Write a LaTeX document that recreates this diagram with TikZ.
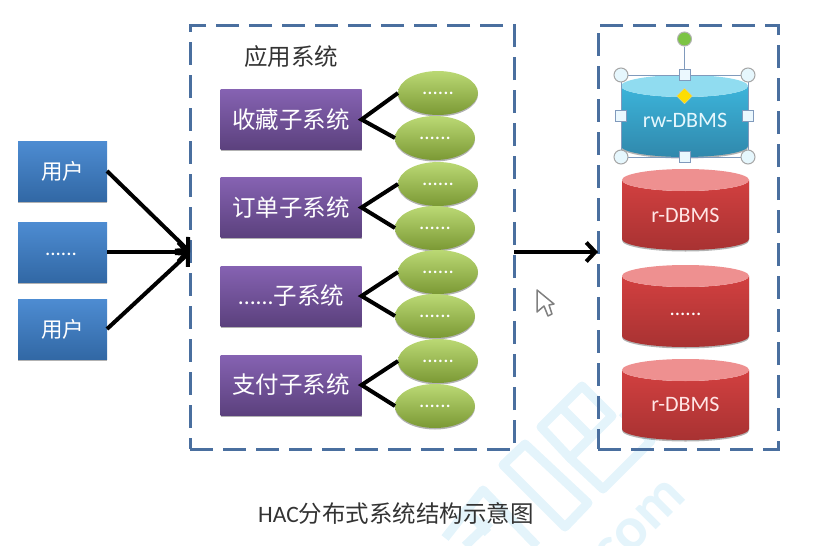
\documentclass[tikz,border=0pt]{standalone}
\usepackage{fontspec}
\setmainfont{Carlito}
\newfontfamily\cjk{Noto Sans CJK SC}
\usetikzlibrary{arrows.meta,shadows,shapes.geometric}
\newlength{\du}
\setlength{\du}{1pt}
\definecolor{dashblue}{HTML}{4A6F9F}
\definecolor{markblue}{HTML}{E4F4FB}
\definecolor{userblue}{HTML}{3E82CE}
\definecolor{subpurple}{HTML}{7F5AAE}
\definecolor{leafgreen}{HTML}{A4CC46}
\definecolor{knobgreen}{HTML}{7CC444}
\definecolor{tealtop}{HTML}{3CB4DA}
\definecolor{tealbot}{HTML}{3088AC}
\definecolor{tealcap}{HTML}{90DCF0}
\definecolor{redtop}{HTML}{D24040}
\definecolor{redbot}{HTML}{A83232}
\definecolor{redcap}{HTML}{EE9090}
\tikzset{
  framebox/.style={draw=dashblue,line width=3\du,dash pattern=on 23\du off 10\du,minimum width=#1\du,inner sep=0pt,outer sep=0pt},
  softshadow/.style={drop shadow={shadow xshift=0pt,shadow yshift=-1.5\du,opacity=.3,fill=black}},
  glossbox/.style={inner sep=0pt,outer sep=0pt,text=white,softshadow},
  userbox/.style={glossbox,minimum width=89\du,minimum height=60\du,top color=userblue!92!white,middle color=userblue,bottom color=userblue!80!black},
  subbox/.style={glossbox,minimum width=141\du,minimum height=60\du,top color=subpurple!95!white,middle color=subpurple,bottom color=subpurple!72!black},
  leaf/.style={glossbox,ellipse,minimum width=80\du,minimum height=44\du,top color=leafgreen!75!white,middle color=leafgreen,bottom color=leafgreen!75!black},
  link/.style={line width=4\du,black},
  arrowlink/.style={link,-{Straight Barb[length=9pt,width=19pt,line width=4pt]}},
  dots/.style={inner sep=0pt,text=white,font=\fontsize{21\du}{21\du}\selectfont},
  cntext/.style={inner sep=0pt,text=white,font=\fontsize{23.5\du}{23.5\du}\selectfont\cjk},
  dbtext/.style={inner sep=0pt,text=white,font=\fontsize{22\du}{22\du}\selectfont},
  cornerhandle/.style={circle,draw=gray!70,line width=1\du,fill=cyan!10,minimum size=14\du,inner sep=0pt},
  sidehandle/.style={rectangle,draw=dashblue!70,line width=.8\du,fill=cyan!8,minimum size=11\du,inner sep=0pt},
}
% one database drum: left x, top y, bottom y, body top, body bottom, lid colour
\newcommand{\dbdrum}[6]{
\shade[top color=#4,bottom color=#5,softshadow]
  (#1\du,#2\du+11\du) arc[start angle=180,end angle=360,x radius=63.5\du,y radius=-11\du] -- (#1\du+127\du,#3\du-11\du)
  arc[start angle=0,end angle=180,x radius=63.5\du,y radius=11\du] -- cycle;
\fill[#6] (#1\du+63.5\du,#2\du+11\du) ellipse[x radius=63.5\du,y radius=11\du];
}
\begin{document}
\begin{tikzpicture}[yscale=-1]
\useasboundingbox (0\du,0\du) rectangle (822\du,546\du);
% watermark
\begin{scope}[markblue,line width=9\du,line join=round]
\draw (541\du,427\du)--(582\du,386\du)--(612\du,416\du)--(570\du,458\du)--cycle;
\draw (561\du,407\du)--(591\du,437\du);
\draw (570\du,458\du)--(603\du,489\du)--(651\du,441\du)--(622\du,412\du);
\draw (503\du,465\du)--(525\du,444\du)--(588\du,503\du)--(565\du,527\du)--cycle;
\draw (445\du,538\du)--(483\du,490\du)--(537\du,546\du);
\draw (463\du,507\du)--(488\du,533\du);
\draw (465\du,546\du)--(490\du,522\du);
\end{scope}
\node[rotate=45,text=markblue,inner sep=0pt,font=\fontsize{60\du}{60\du}\selectfont\bfseries] (markcom) at (640\du,525\du) {com};
% dashed frames
\node[framebox=324,minimum height=424\du] (appbox) at (352\du,237\du) {};
\node[framebox=180,minimum height=424\du] (dbbox) at (688\du,237\du) {};
\node[inner sep=0pt,font=\fontsize{23.5\du}{23.5\du}\selectfont\cjk,text=black!80] (apptitle) at (291\du,57\du) {应用系统};
% users
\node[userbox] (user1) at (62.5\du,171\du) {};
\node[userbox] (user2) at (62.5\du,252\du) {};
\node[userbox] (user3) at (62.5\du,329\du) {};
\node[cntext,font=\fontsize{21.5\du}{21.5\du}\selectfont\cjk] (user1text) at (user1) {用户};
\node[dots] (user2text) at (61\du,254\du) {......};
\node[cntext,font=\fontsize{21.5\du}{21.5\du}\selectfont\cjk] (user3text) at (user3) {用户};
\draw[arrowlink] (user1.east)--(appbox.west |- user2);
\draw[arrowlink] (user2.east)--(appbox.west |- user2);
\draw[arrowlink] (user3.east)--(appbox.west |- user2);
\draw[arrowlink] (appbox.east |- user2)--(dbbox.west |- user2);
% sub systems
\node[subbox] (sub1) at (291\du,119.5\du) {};
\node[subbox] (sub2) at (291\du,207.5\du) {};
\node[subbox] (sub3) at (291\du,296\du) {};
\node[subbox] (sub4) at (291\du,385\du) {};
\node[cntext] (sub1text) at (sub1) {收藏子系统};
\node[cntext] (sub2text) at (sub2) {订单子系统};
\node[cntext] (sub3text) at (sub3) {{\fontspec{Carlito}......}子系统};
\node[cntext] (sub4text) at (sub4) {支付子系统};
% leaves
\node[leaf] (leaf1) at (438\du,93\du) {};
\node[leaf] (leaf2) at (435\du,138\du) {};
\node[leaf] (leaf3) at (438\du,184\du) {};
\node[leaf] (leaf4) at (435\du,228\du) {};
\node[leaf] (leaf5) at (438\du,272\du) {};
\node[leaf] (leaf6) at (435\du,316\du) {};
\node[leaf] (leaf7) at (438\du,361\du) {};
\node[leaf] (leaf8) at (435\du,406\du) {};
\node[dots] (leaf1text) at (leaf1) {......};
\node[dots] (leaf2text) at (leaf2) {......};
\node[dots] (leaf3text) at (leaf3) {......};
\node[dots] (leaf4text) at (leaf4) {......};
\node[dots] (leaf5text) at (leaf5) {......};
\node[dots] (leaf6text) at (leaf6) {......};
\node[dots] (leaf7text) at (leaf7) {......};
\node[dots] (leaf8text) at (leaf8) {......};
\draw[link] (leaf1.west)--(sub1.east)--(leaf2.west);
\draw[link] (leaf3.west)--(sub2.east)--(leaf4.west);
\draw[link] (leaf5.west)--(sub3.east)--(leaf6.west);
\draw[link] (leaf7.west)--(sub4.east)--(leaf8.west);
% databases
\dbdrum{621}{75}{157}{tealtop}{tealbot}{tealcap}
\dbdrum{622}{169}{250}{redtop}{redbot}{redcap}
\dbdrum{622}{265}{347}{redtop}{redbot}{redcap}
\dbdrum{622}{359}{440}{redtop}{redbot}{redcap}
\node[dbtext,text=cyan!10] (db1text) at (685\du,120\du) {rw-DBMS};
\node[dbtext,text=red!10] (db2text) at (685.5\du,215\du) {r-DBMS};
\node[dots] (db3text) at (685.5\du,314\du) {......};
\node[dbtext,text=red!10] (db4text) at (685.5\du,404\du) {r-DBMS};
% selection handles
\draw[dashblue!70,line width=1\du] (621\du,75\du) rectangle (748\du,157\du);
\node[circle,fill=knobgreen,draw=gray!60,line width=1\du,minimum size=14\du,inner sep=0pt] (rotknob) at (684.5\du,39\du) {};
\node[sidehandle] (handleT) at (684.5\du,75\du) {};
\node[sidehandle] (handleB) at (684.5\du,157\du) {};
\node[sidehandle] (handleL) at (621\du,116\du) {};
\node[sidehandle] (handleR) at (748\du,116\du) {};
\node[cornerhandle] (handleTL) at (621\du,75\du) {};
\node[cornerhandle] (handleTR) at (748\du,75\du) {};
\node[cornerhandle] (handleBL) at (621\du,157\du) {};
\node[cornerhandle] (handleBR) at (748\du,157\du) {};
\node[diamond,aspect=1,fill=yellow!80!orange,draw=gray!40,minimum size=16\du,inner sep=0pt] (handleD) at (684.5\du,96\du) {};
\draw[dashblue!70,line width=1.5\du] (rotknob)--(handleT);
% pointer
\draw[gray,line width=1.5\du,fill=white,line join=round] (537\du,290\du)--(537\du,312\du)--(544\du,306\du)--(548\du,316\du)--(552\du,314\du)--(549\du,305\du)--(554\du,304\du)--cycle;
% caption
\node[inner sep=0pt,text=black!80,font=\fontsize{23.5\du}{23.5\du}\selectfont] (caption) at (396\du,513\du) {HAC{\cjk 分布式系统结构示意图}};
\end{tikzpicture}
\end{document}
